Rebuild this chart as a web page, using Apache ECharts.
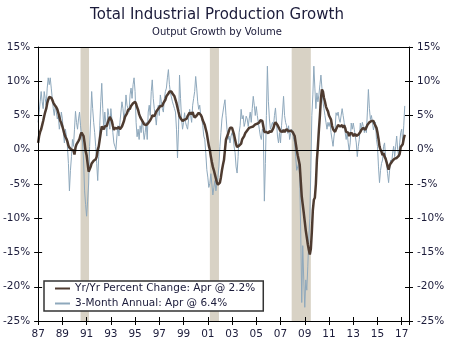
<!DOCTYPE html>
<html><head><meta charset="utf-8">
<script src="https://cdn.jsdelivr.net/npm/echarts@6/dist/echarts.min.js"></script>
<style>html,body{margin:0;padding:0;background:#fff}#c{width:450px;height:342px}</style>
</head><body><div id="c"></div>
<script>
// Data start: January 1987, monthly
const startYear = 1987;
const yoyName = 'Yr/Yr Percent Change: Apr @ 2.2%';
const annName = '3-Month Annual: Apr @ 6.4%';
const titleText = 'Total Industrial Production Growth';
const subtitleText = 'Output Growth by Volume';

const yoyValues = [
  1.0, 2.0, 2.6, 3.0, 3.6, 4.2, 4.9, 5.5, 6.0, 6.8, 7.3, 7.7,
  7.8, 7.6, 7.3, 6.9, 6.6, 6.4, 6.2, 5.9, 5.4, 4.8, 4.2, 3.9,
  3.4, 2.9, 2.3, 1.9, 1.6, 1.2, 0.6, 0.3, 0.2, 0.0, -0.2, -0.1,
  -0.7, 0.3, 0.8, 1.0, 1.3, 1.6, 2.2, 2.5, 2.4, 2.0, 1.0, -0.2,
  -0.8, -2.0, -3.2, -3.0, -2.5, -2.0, -1.8, -1.6, -1.5, -1.4, -1.0, 0.0,
  0.5, 1.5, 2.5, 3.4, 3.2, 3.0, 3.4, 3.2, 3.5, 4.0, 4.4, 4.8,
  4.8, 4.2, 3.5, 2.9, 3.2, 3.0, 3.1, 3.0, 3.3, 3.0, 3.2, 3.4,
  3.8, 4.2, 4.8, 5.0, 5.3, 5.8, 5.6, 6.0, 6.4, 6.5, 6.8, 6.9,
  7.0, 6.7, 6.2, 5.8, 5.2, 4.8, 4.5, 4.3, 4.0, 3.7, 3.8, 3.6,
  3.6, 3.9, 3.8, 4.3, 4.6, 5.0, 5.1, 4.9, 5.2, 5.6, 5.8, 6.0,
  6.2, 6.4, 6.5, 6.4, 6.8, 7.0, 7.3, 7.8, 7.9, 8.2, 8.5, 8.3,
  8.5, 8.2, 8.0, 7.8, 7.6, 6.8, 6.6, 5.5, 4.9, 4.6, 4.4, 4.2,
  4.3, 4.4, 4.3, 4.5, 4.9, 5.0, 5.4, 5.6, 5.2, 5.5, 5.0, 4.7,
  4.6, 5.0, 5.1, 5.4, 5.2, 5.1, 4.8, 4.3, 4.1, 3.6, 3.0, 2.4,
  1.5, 0.6, 0.0, -1.0, -1.8, -2.5, -3.0, -3.6, -4.2, -4.8, -5.1, -5.1,
  -4.8, -4.0, -3.0, -2.2, -1.5, 0.0, 1.5, 1.6, 2.3, 2.8, 3.2, 3.0,
  3.2, 3.0, 2.2, 1.5, 0.8, 0.4, 0.2, 0.6, 0.5, 0.9, 1.5, 1.7,
  2.0, 2.4, 2.2, 2.8, 3.0, 3.2, 3.0, 3.3, 3.5, 3.4, 3.6, 3.7,
  3.6, 3.8, 3.9, 4.0, 4.3, 4.4, 4.2, 4.0, 2.6, 2.4, 2.6, 2.5,
  2.4, 2.7, 2.9, 2.6, 2.9, 3.2, 3.7, 4.0, 4.1, 3.6, 3.3, 3.0,
  2.7, 2.8, 2.6, 2.9, 2.6, 2.7, 3.0, 2.9, 2.7, 2.9, 2.8, 2.7,
  2.6, 2.4, 2.0, 1.0, 0.0, -0.8, -1.5, -2.2, -4.5, -6.8, -8.0, -9.2,
  -10.5, -11.8, -12.8, -13.8, -14.6, -15.3, -14.5, -12.0, -8.8, -7.3, -7.0, -5.0,
  -1.5, 0.5, 2.9, 5.0, 7.5, 8.8, 8.5, 7.6, 7.0, 6.3, 5.9, 5.6,
  5.0, 4.8, 4.4, 3.5, 3.0, 3.0, 2.6, 3.0, 3.2, 3.6, 3.5, 3.4,
  3.3, 3.6, 3.2, 3.6, 3.2, 2.6, 2.4, 2.5, 2.0, 2.4, 2.6, 2.4,
  2.0, 1.9, 2.3, 2.0, 2.0, 2.2, 2.0, 2.6, 2.9, 3.0, 3.2, 3.1,
  2.9, 3.0, 3.6, 3.4, 4.0, 4.1, 4.2, 4.0, 4.2, 3.8, 3.6, 3.2,
  2.5, 1.6, 0.5, 0.0, -0.3, -0.8, -0.5, -1.0, -1.3, -1.8, -2.4, -2.9,
  -2.3, -2.0, -1.9, -1.6, -1.4, -1.3, -1.5, -1.2, -1.0, -0.9, -0.6, 0.4,
  0.6, 0.8, 1.6, 2.2
];

const annualValues = [
  4.0, 5.5, 7.0, 8.5, 7.0, 6.0, 8.5, 7.5, 6.5, 9.0, 10.5, 9.5,
  10.5, 9.0, 7.5, 6.0, 5.0, 6.5, 5.5, 4.5, 5.0, 3.0, 4.0, 5.5,
  4.5, 2.5, 1.0, 3.0, 2.0, 0.5, -2.0, -6.0, -3.0, -1.0, 1.5, 0.5,
  3.0, 5.6, 4.0, 3.0, 4.5, 5.5, 3.5, 2.0, 1.0, -1.5, -6.0, -8.0,
  -9.7, -7.5, -5.0, 0.5, 4.5, 8.5, 6.0, 4.0, 2.5, 0.5, -2.0, -4.5,
  -1.0, 3.5, 7.0, 9.7, 6.0, 3.0, 5.5, 4.0, 2.0, 6.0, 5.0, 3.0,
  6.0, 4.5, 2.5, 1.0, 0.5, 0.0, 2.0, 3.5, 2.0, 4.0, 5.5, 7.0,
  6.0, 4.5, 5.5, 8.0, 6.5, 6.0, 5.5, 8.0, 9.0, 7.5, 9.5, 10.5,
  8.5, 4.0, 1.9, 3.0, 1.5, 3.5, 2.5, 4.5, 3.0, 1.5, 2.5, 4.0,
  1.5, 5.5, 6.5, 5.0, 8.5, 10.2, 7.5, 6.0, 5.0, 3.6, 5.5, 6.5,
  5.0, 8.0, 7.0, 6.0, 5.5, 7.5, 8.5, 9.0, 10.5, 11.7, 9.5, 8.3,
  8.3, 7.0, 6.5, 6.0, 5.5, 3.0, -1.2, 3.0, 10.9, 7.5, 4.5, 3.0,
  4.0, 5.4, 4.0, 3.4, 3.0, 4.5, 5.9, 5.0, 4.0, 6.5, 7.5, 8.5,
  10.7, 9.0, 7.0, 5.9, 6.5, 5.0, 4.6, 3.5, 2.0, 1.5, -0.5, -2.9,
  -4.0, -5.5, -4.9, -3.5, -5.0, -6.6, -5.5, -4.5, -6.0, -5.0, -4.0, -2.5,
  0.5, 2.5, 4.5, 5.5, 6.5, 7.3, 5.0, 3.0, 1.5, 2.0, 1.0, 2.0,
  2.5, 2.0, 0.5, -0.4, -2.5, -3.4, -1.0, 2.5, 3.5, 5.9, 4.5, 5.0,
  3.4, 4.0, 4.9, 4.5, 3.4, 4.5, 5.5, 4.0, 6.0, 7.8, 6.5, 5.0,
  6.3, 5.0, 4.0, 3.0, 2.0, 1.5, 3.0, 2.5, -7.5, -2.0, 5.0, 12.2,
  7.0, 4.5, 3.0, 3.5, 4.0, 3.4, 5.0, 6.1, 4.0, 2.0, 1.0, 2.5,
  1.0, 3.5, 5.5, 7.8, 5.0, 4.0, 3.5, 2.4, 3.5, 1.5, 2.4, 3.0,
  2.4, 1.5, 1.0, -1.0, -3.0, -2.5, -2.0, -4.0, -12.0, -22.3, -14.0, -19.0,
  -23.0, -19.0, -20.5, -17.0, -13.0, -10.0, -3.0, 5.0, 8.0, 12.2, 9.0, 6.0,
  8.3, 7.0, 8.0, 9.5, 10.9, 9.0, 7.0, 6.0, 5.0, 4.0, 3.0, 4.0,
  3.4, 4.0, 2.5, 1.5, 0.5, 2.0, 3.0, 5.4, 5.0, 5.5, 4.5, 4.0,
  4.0, 6.0, 5.0, 4.0, 2.5, 1.5, 2.5, 1.0, -0.2, 1.0, 3.9, 3.0,
  3.9, 3.0, 2.0, 1.0, -1.0, 0.5, 1.5, 3.9, 3.0, 4.0, 3.4, 2.5,
  3.4, 2.5, 5.5, 8.8, 6.0, 4.4, 5.0, 4.0, 2.9, 3.5, 4.0, 1.5,
  0.5, -2.5, -4.8, -3.0, -2.0, -1.5, 0.5, 1.0, -1.0, -2.0, -3.5, -4.8,
  -3.0, -1.5, -2.0, -0.5, 0.5, -1.0, 0.5, 2.0, 0.0, -1.0, 1.0, 2.5,
  3.0, 1.0, 3.5, 6.4
];

// Recession periods (decimal years)
const recessions = [[1990.5, 1991.2], [2001.17, 2001.92], [2007.92, 2009.5]];
// Axis ticks
const yTicks = { min: -25, max: 15, step: 5 };
const xSpan = { years: 30.6, step: 2 };

// Build [x, y] pairs, x = years since startYear
const toPairs = arr => arr.map((v, i) => [i / 12, v]);
const yoyData = toPairs(yoyValues);
const annData = toPairs(annualValues);
const recessionAreas = recessions.map(r => [{ xAxis: r[0] - startYear }, { xAxis: r[1] - startYear }]);

const FONT = 'DejaVu Sans';
const TXT = '#1b1b3a';
const xLabel = v => {
  if (Math.abs(v - Math.round(v)) > 1e-6) return '';
  const y = (startYear + Math.round(v)) % 100;
  return (y < 10 ? '0' : '') + y;
};

const baseX = {
  type: 'value', min: 0, max: xSpan.years, interval: xSpan.step, splitLine: { show: false }, z: 10
};
const baseY = {
  type: 'value', min: yTicks.min, max: yTicks.max, interval: yTicks.step, splitLine: { show: false }, z: 10
};
const labelStyle = { fontFamily: FONT, fontSize: 10.5, color: TXT };

const chart = echarts.init(document.getElementById('c'), null, { renderer: 'canvas' });
chart.setOption({
  animation: false,
  backgroundColor: '#fff',
  graphic: [
    { type: 'text', x: 217, y: 8, style: { text: titleText, font: '15px "DejaVu Sans"', fill: TXT, textAlign: 'center', textVerticalAlign: 'top' } },
    { type: 'text', x: 217, y: 27, style: { text: subtitleText, font: '10px "DejaVu Sans"', fill: TXT, textAlign: 'center', textVerticalAlign: 'top' } }
  ],
  grid: { left: 37, right: 41, top: 47, bottom: 21, containLabel: false },
  legend: {
    orient: 'vertical', left: 44, top: 281,
    data: [yoyName, annName],
    borderColor: '#333', borderWidth: 1.5, backgroundColor: '#fff',
    padding: [2, 8, 2, 10], itemGap: 4, itemWidth: 15, itemHeight: 10,
    itemStyle: { opacity: 0 },
    textStyle: { fontFamily: FONT, fontSize: 10.5, color: TXT },
    z: 20
  },
  xAxis: [
    Object.assign({}, baseX, {
      position: 'bottom',
      axisLine: { show: true, onZero: false, lineStyle: { color: '#000', width: 1 } },
      axisTick: { show: true, inside: false, length: 4, lineStyle: { color: '#000' } },
      axisLabel: Object.assign({ formatter: xLabel, margin: 8, showMinLabel: true, showMaxLabel: true }, labelStyle)
    }),
    Object.assign({}, baseX, {
      position: 'bottom',
      axisLine: { show: false, onZero: false },
      axisTick: { show: true, inside: true, length: 4, lineStyle: { color: '#000' } },
      axisLabel: { show: false }
    }),
    Object.assign({}, baseX, {
      position: 'top',
      axisLine: { show: true, onZero: false, lineStyle: { color: '#000', width: 1 } },
      axisTick: { show: false },
      axisLabel: { show: false }
    })
  ],
  yAxis: [
    Object.assign({}, baseY, {
      position: 'left',
      axisLine: { show: true, onZero: false, lineStyle: { color: '#000', width: 1 } },
      axisTick: { show: true, inside: false, length: 4, lineStyle: { color: '#000' } },
      axisLabel: Object.assign({ formatter: '{value}%', margin: 8 }, labelStyle)
    }),
    Object.assign({}, baseY, {
      position: 'right',
      axisLine: { show: true, onZero: false, lineStyle: { color: '#000', width: 1 } },
      axisTick: { show: true, inside: false, length: 4, lineStyle: { color: '#000' } },
      axisLabel: Object.assign({ formatter: '{value}%', margin: 8 }, labelStyle)
    }),
    Object.assign({}, baseY, {
      position: 'left',
      axisLine: { show: false, onZero: false },
      axisTick: { show: true, inside: true, length: 4, lineStyle: { color: '#000' } },
      axisLabel: { show: false }
    }),
    Object.assign({}, baseY, {
      position: 'right',
      axisLine: { show: false, onZero: false },
      axisTick: { show: true, inside: true, length: 4, lineStyle: { color: '#000' } },
      axisLabel: { show: false }
    })
  ],
  series: [
    {
      name: annName, type: 'line', data: annData, xAxisIndex: 0, yAxisIndex: 0,
      symbol: 'none', z: 2,
      lineStyle: { color: '#8ea8bc', width: 1 },
      itemStyle: { color: '#8ea8bc' },
      markArea: { silent: true, itemStyle: { color: '#d8d2c5' }, data: recessionAreas }
    },
    {
      name: yoyName, type: 'line', data: yoyData, xAxisIndex: 0, yAxisIndex: 0,
      symbol: 'none', z: 3,
      lineStyle: { color: '#4e3b30', width: 2.5 },
      itemStyle: { color: '#4e3b30' },
      markLine: { silent: true, symbol: 'none', label: { show: false },
        lineStyle: { color: '#000', width: 1, type: 'solid' }, data: [{ yAxis: 0 }] }
    }
  ]
});
</script>
</body></html>
